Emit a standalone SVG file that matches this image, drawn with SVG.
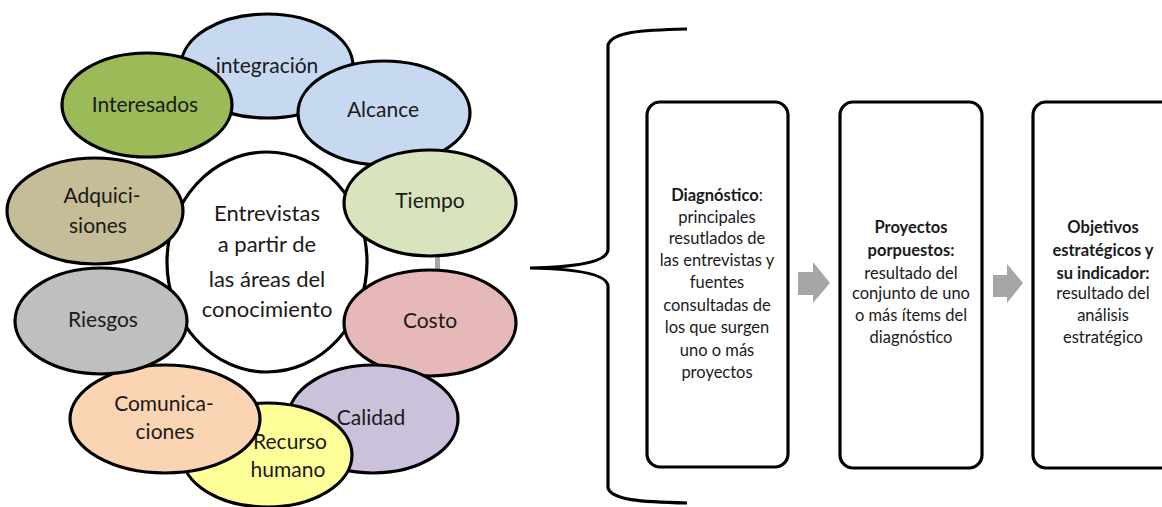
<svg xmlns="http://www.w3.org/2000/svg" width="1162" height="507" viewBox="0 0 1162 507">
<style>
.el{stroke:#000;stroke-width:3.2}
.lbl{font-family:Lato,"Liberation Sans",sans-serif;font-size:21px;fill:#1a1a1a;text-anchor:middle}
.ctr{font-family:Lato,"Liberation Sans",sans-serif;font-size:22px;fill:#1a1a1a;text-anchor:middle}
.box{fill:#fff;stroke:#000;stroke-width:3.2}
.bt{font-family:Lato,"Liberation Sans",sans-serif;font-size:16.5px;fill:#1a1a1a;text-anchor:middle}
.b{font-weight:bold}
.arr{fill:#A6A6A6}
</style>
<rect width="1162" height="507" fill="#fff"/>
<g id="centro">
<ellipse class="el" cx="267" cy="262" rx="100" ry="110" fill="#fff"/>
<text class="ctr"><tspan x="267" y="221">Entrevistas</tspan><tspan x="267" y="252">a partir de</tspan><tspan x="267" y="287">las áreas del</tspan><tspan x="267" y="317">conocimiento</tspan></text>
</g>
<g id="connectors">
<rect x="435" y="250" width="5" height="22" fill="#A6A6A6"/>
<path d="M687,29 C640,30 612,32 608,45 L608,250 C607,260 585,267 530,268 C585,269 607,276 608,286 L608,488 C612,500 640,502 687,503" fill="none" stroke="#000" stroke-width="3.2"/>
<path class="arr" d="M798,272 L813,272 L813,262 L830,283 L813,303 L813,295 L798,295 Z"/>
<path class="arr" d="M993,275 L1007,275 L1007,264 L1023,283 L1007,303 L1007,297 L993,297 Z"/>
</g>
<g id="integracion">
<ellipse class="el" cx="267" cy="66" rx="86" ry="52" fill="#C6D9F1"/>
<text class="lbl" x="267" y="73">integración</text>
</g>
<g id="alcance">
<ellipse class="el" cx="384" cy="113" rx="86" ry="52" fill="#C6D9F1"/>
<text class="lbl" x="383" y="117">Alcance</text>
</g>
<g id="tiempo">
<ellipse class="el" cx="430" cy="203" rx="86" ry="53" fill="#D7E4BD"/>
<text class="lbl" x="430" y="208">Tiempo</text>
</g>
<g id="costo">
<ellipse class="el" cx="430" cy="323" rx="86" ry="53" fill="#E6B9B8"/>
<text class="lbl" x="430" y="328">Costo</text>
</g>
<g id="calidad">
<ellipse class="el" cx="373" cy="419" rx="85" ry="54" fill="#CCC1DA"/>
<text class="lbl" x="371" y="425">Calidad</text>
</g>
<g id="recurso">
<ellipse class="el" cx="267" cy="455" rx="85" ry="52" fill="#FFFF99"/>
<text class="lbl"><tspan x="290" y="449">Recurso</tspan><tspan x="288" y="477">humano</tspan></text>
</g>
<g id="comunicaciones">
<ellipse class="el" cx="165" cy="419" rx="95" ry="54" fill="#FBD4B4"/>
<text class="lbl"><tspan x="164" y="411">Comunica-</tspan><tspan x="165" y="439">ciones</tspan></text>
</g>
<g id="riesgos">
<ellipse class="el" cx="101" cy="321" rx="86" ry="53" fill="#BFBFBF"/>
<text class="lbl" x="103" y="327">Riesgos</text>
</g>
<g id="adquisiciones">
<ellipse class="el" cx="95" cy="211" rx="88" ry="53" fill="#C4BD97"/>
<text class="lbl"><tspan x="102" y="203">Adquici-</tspan><tspan x="98" y="233">siones</tspan></text>
</g>
<g id="interesados">
<ellipse class="el" cx="147" cy="105" rx="85" ry="52" fill="#9BBB59"/>
<text class="lbl" x="145" y="112">Interesados</text>
</g>
<g id="diagnostico">
<rect class="box" x="647" y="102" width="141" height="365" rx="13"/>
<text class="bt"><tspan x="717" y="201"><tspan class="b">Diagnóstico</tspan>:</tspan><tspan x="717" y="223">principales</tspan><tspan x="717" y="244">resutlados de</tspan><tspan x="717" y="266">las entrevistas y</tspan><tspan x="717" y="288">fuentes</tspan><tspan x="717" y="311">consultadas de</tspan><tspan x="717" y="333">los que surgen</tspan><tspan x="717" y="356">uno o más</tspan><tspan x="717" y="378">proyectos</tspan></text>
</g>
<g id="proyectos">
<rect class="box" x="840" y="102" width="142" height="366" rx="13"/>
<text class="bt"><tspan class="b" x="911" y="233">Proyectos</tspan><tspan class="b" x="911" y="256">porpuestos:</tspan><tspan x="911" y="279">resultado del</tspan><tspan x="911" y="299">conjunto de uno</tspan><tspan x="911" y="321">o más ítems del</tspan><tspan x="911" y="343">diagnóstico</tspan></text>
</g>
<g id="objetivos">
<rect class="box" x="1033" y="102" width="142" height="366" rx="13"/>
<text class="bt"><tspan class="b" x="1103" y="233">Objetivos</tspan><tspan class="b" x="1103" y="256">estratégicos y</tspan><tspan class="b" x="1103" y="279">su indicador:</tspan><tspan x="1103" y="299">resultado del</tspan><tspan x="1103" y="321">análisis</tspan><tspan x="1103" y="343">estratégico</tspan></text>
</g>
</svg>
